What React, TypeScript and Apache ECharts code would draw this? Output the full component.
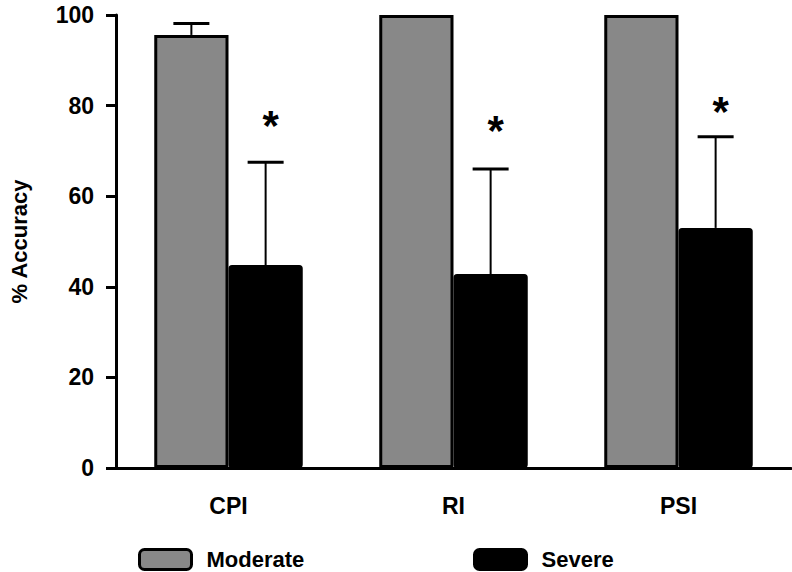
import React, { useEffect, useRef } from "react";
import * as echarts from "echarts";

const categories = ["CPI", "RI", "PSI"];
const moderateValues = [95.6, 100, 100];
const moderateUpper = [98.1, 100, 100];
const severeValues = [44.8, 42.8, 53.0];
const severeUpper = [67.5, 66.0, 73.1];
const asteriskValues = [76.8, 75.7, 79.7];
const yTicks = [0, 20, 40, 60, 80, 100];

const FONT = "'Liberation Sans', Arial, sans-serif";
const GAP = 0.34;

function errorBarSeries(values: number[], upper: number[], side: number) {
  return {
    type: "custom",
    z: 5,
    silent: true,
    data: values.map((v, i) => [i, v, upper[i]]),
    renderItem: (params: any, api: any) => {
      const idx = api.value(0);
      const mean = api.value(1);
      const up = api.value(2);
      if (up <= mean) return { type: "group", children: [] };
      const band = api.size([1, 0])[0];
      const barW = (band * (1 - GAP)) / 2;
      const c = api.coord([idx, mean]);
      const cx = c[0] + (side * barW) / 2;
      const top = api.coord([idx, up])[1];
      return {
        type: "group",
        children: [
          { type: "line", shape: { x1: cx, y1: c[1], x2: cx, y2: top }, style: { stroke: "#000", lineWidth: 2 } },
          { type: "line", shape: { x1: cx - 18, y1: top, x2: cx + 18, y2: top }, style: { stroke: "#000", lineWidth: 3 } },
        ],
      };
    },
  };
}

const legendCommon = {
  top: 543,
  itemWidth: 52,
  itemHeight: 20,
  icon: "roundRect",
  itemStyle: { borderColor: "#000", borderWidth: 3 },
  textStyle: { fontSize: 22, fontWeight: "bold", fontFamily: FONT, color: "#000", padding: [0, 0, 0, 10] },
};

export default function App() {
  const ref = useRef<HTMLDivElement>(null);
  useEffect(() => {
    const chart = echarts.init(ref.current!, null, { renderer: "svg" });
    chart.setOption({
      animation: false,
      backgroundColor: "#fff",
      grid: { left: 110, right: 1, top: 15, bottom: 104, containLabel: false },
      legend: [
        { ...legendCommon, data: ["Moderate"], left: 133 },
        { ...legendCommon, data: ["Severe"], left: 468 },
      ],
      xAxis: {
        type: "category",
        data: categories,
        axisLine: { lineStyle: { color: "#000", width: 3 } },
        axisTick: { alignWithLabel: true, length: 10, lineStyle: { color: "#000", width: 3 } },
        axisLabel: { margin: 26, fontSize: 23, fontWeight: "bold", fontFamily: FONT, color: "#000" },
      },
      yAxis: {
        type: "value",
        min: 0,
        max: 100,
        interval: 20,
        name: "% Accuracy",
        nameLocation: "middle",
        nameGap: 86,
        nameTextStyle: { fontSize: 22, fontWeight: "bold", fontFamily: FONT, color: "#000" },
        axisLine: { show: true, lineStyle: { color: "#000", width: 3 } },
        axisTick: { show: true, length: 10, lineStyle: { color: "#000", width: 3 } },
        axisLabel: {
          margin: 22,
          fontSize: 23,
          fontWeight: "bold",
          fontFamily: FONT,
          color: "#000",
          formatter: (v: number) => (yTicks.includes(v) ? String(v) : ""),
        },
        splitLine: { show: false },
      },
      series: [
        {
          name: "Moderate",
          type: "bar",
          data: moderateValues,
          barGap: "0%",
          barCategoryGap: GAP * 100 + "%",
          itemStyle: { color: "#888888", borderColor: "#000", borderWidth: 3 },
        },
        {
          name: "Severe",
          type: "bar",
          data: severeValues,
          itemStyle: { color: "#000", borderColor: "#000", borderWidth: 3, borderRadius: 2 },
        },
        errorBarSeries(moderateValues, moderateUpper, -1),
        errorBarSeries(severeValues, severeUpper, 1),
        {
          type: "custom",
          z: 6,
          silent: true,
          data: asteriskValues.map((v, i) => [i, v]),
          renderItem: (params: any, api: any) => {
            const idx = api.value(0);
            const band = api.size([1, 0])[0];
            const barW = (band * (1 - GAP)) / 2;
            const c = api.coord([idx, api.value(1)]);
            return {
              type: "text",
              x: c[0] + barW / 2 + 5,
              y: c[1] + 5,
              style: {
                text: "*",
                fontSize: 42,
                fontWeight: "bold",
                fontFamily: FONT,
                fill: "#000",
                textAlign: "center",
                textVerticalAlign: "middle",
              },
            };
          },
        },
      ],
    });
    return () => chart.dispose();
  }, []);
  return <div ref={ref} style={{ width: 792, height: 572, position: "absolute", left: 0, top: 0 }} />;
}
